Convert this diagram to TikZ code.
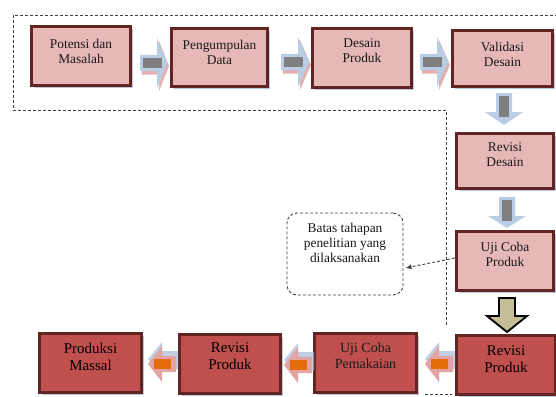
\documentclass[tikz,border=0pt]{standalone}
\usepackage{fontspec}
\setmainfont{Liberation Serif}
\usetikzlibrary{shadows,arrows.meta,calc}
\definecolor{boxborder}{HTML}{632523}
\definecolor{lightpink}{HTML}{E6B8B7}
\definecolor{darkred}{HTML}{C0504D}
\definecolor{arrowblue}{HTML}{B9CDE5}
\definecolor{arrowgrey}{HTML}{7F7F7F}
\definecolor{arroworange}{HTML}{E46C0A}
\definecolor{arrowpink}{HTML}{E3A3A2}
\definecolor{khakifill}{HTML}{C4BD97}
\definecolor{dashgrey}{HTML}{3F3F3F}
\definecolor{shadowblue}{HTML}{A6BBD6}
\definecolor{textdark}{HTML}{1A1A1A}

% #1 tail centre, #2 rotation, #3 shaft length, #4 head length, #5 head half-height, #6 shadow opacity
\newcommand\BlueArrow[6]{%
  \begin{scope}[shift={#1},rotate=#2]
    \fill[darkred,opacity=#6] (2,-5.5) -- (2+#3,-5.5) -- (2+#3,-#5+3) -- (2+#3+#4,3) -- (2+#3,#5+3) -- (2+#3,11.5) -- (2,11.5) -- cycle;
    \fill[arrowblue] (0,-8) -- (#3,-8) -- (#3,-#5) -- (#3+#4,0) -- (#3,#5) -- (#3,8) -- (0,8) -- cycle;
    \fill[arrowgrey] (3,-5) rectangle (#3+5,5);
  \end{scope}}
% pink/orange arrow pointing left: #1 tail centre
\newcommand\PinkArrow[1]{%
  \begin{scope}[shift={#1},rotate=180]
    \fill[shadowblue,opacity=.7] (-2,-5) -- (14,-5) -- (14,-15) -- (28,5) -- (14,22) -- (14,13) -- (-2,13) -- cycle;
    \fill[arrowpink] (0,-8) -- (14,-8) -- (14,-18) -- (28,0) -- (14,18) -- (14,8) -- (0,8) -- cycle;
    \fill[arroworange] (5,-5) rectangle (22,5);
  \end{scope}}

\tikzset{
  box/.style={draw=boxborder, line width=3.4pt, fill=lightpink,
    drop shadow={shadow xshift=2pt, shadow yshift=-2.5pt, fill=shadowblue, opacity=.8}},
  boxdark/.style={box, fill=darkred},
  txt/.style={align=center, text=textdark, inner sep=0pt,
    font=\fontsize{13.4}{15}\selectfont},
  txtbig/.style={align=center, text=black, inner sep=0pt,
    font=\fontsize{15}{17}\selectfont},
  boundary/.style={draw=dashgrey, line width=0.9pt, dash pattern=on 3pt off 2pt},
}

\begin{document}
\begin{tikzpicture}[x=1pt,y=-1pt]
\useasboundingbox (0,0) rectangle (556,396);

% dashed boundary of the research stages
\draw[boundary] (558,15) -- (13,15) -- (13,110) -- (446,110) -- (446,327);
\draw[boundary] (425,394) -- (452,394);

% boxes
\node[box, minimum width=99pt, minimum height=59pt] (b1) at (81,56) {};
\node[box, minimum width=96pt, minimum height=58pt] (b2) at (219.5,57.5) {};
\node[box, minimum width=99pt, minimum height=59pt] (b3) at (362,58) {};
\node[box, minimum width=100pt, minimum height=56pt] (b4) at (502.5,58.5) {};
\node[box, minimum width=97pt, minimum height=55pt] (b5) at (505,161) {};
\node[box, minimum width=97pt, minimum height=59pt] (b6) at (505,261) {};
\node[boxdark, minimum width=99pt, minimum height=59pt] (b7) at (506,365) {};
\node[boxdark, minimum width=102pt, minimum height=59pt] (b8) at (365.5,363) {};
\node[boxdark, minimum width=101pt, minimum height=59pt] (b9) at (230,364) {};
\node[boxdark, minimum width=102pt, minimum height=59pt] (b10) at (90.5,363) {};

% texts
\node[txt] (t1) at (81,51) {Potensi dan\\Masalah};
\node[txt] (t2) at (219.5,52) {Pengumpulan\\Data};
\node[txt] (t3) at (362,50.5) {Desain\\Produk};
\node[txt] (t4) at (502.5,54) {Validasi\\Desain};
\node[txt] (t5) at (505,155) {Revisi\\Desain};
\node[txt] (t6) at (505,254.5) {Uji Coba\\Produk};
\node[txtbig] (t7) at (506,359) {Revisi\\Produk};
\node[txt, font=\fontsize{14}{16}\selectfont] (t8) at (365.5,355.5) {Uji Coba\\Pemakaian};
\node[txtbig] (t9) at (230,356.5) {Revisi\\Produk};
\node[txtbig] (t10) at (90.5,356.5) {Produksi\\Massal};

% block arrows, top row
\BlueArrow{(140,63)}{0}{17}{10}{25}{.45}
\BlueArrow{(281,62)}{0}{17}{11}{25}{.45}
\BlueArrow{(420,62)}{0}{17}{11}{25}{.45}
% block arrows, right column
\BlueArrow{(504,93)}{-90}{19}{13}{19}{0}
\BlueArrow{(507,197)}{-90}{19}{12}{19}{0}
\begin{scope}[shift={(507,298)},rotate=-90]
  \draw[black, line width=1.8pt, fill=khakifill, line join=miter]
    (0,-8) -- (18,-8) -- (18,-20) -- (34,0) -- (18,20) -- (18,8) -- (0,8) -- cycle;
\end{scope}
% block arrows, bottom row
\PinkArrow{(453,364)}
\PinkArrow{(312,365)}
\PinkArrow{(176,364)}

% note
\node[draw=dashgrey, line width=0.9pt, dash pattern=on 3pt off 2pt, rounded corners=10pt,
  minimum width=116pt, minimum height=82pt, fill=white] (note) at (345,254) {};
\node[txt] (notetext) at (345,243) {Batas tahapan\\penelitian yang\\dilaksanakan};
\draw[boundary, -{Latex[length=6pt,width=5pt]}, dash pattern=on 3pt off 2pt]
  ([yshift=3pt]b6.west) -- ([xshift=2pt,yshift=-14pt]note.east);
\end{tikzpicture}
\end{document}
